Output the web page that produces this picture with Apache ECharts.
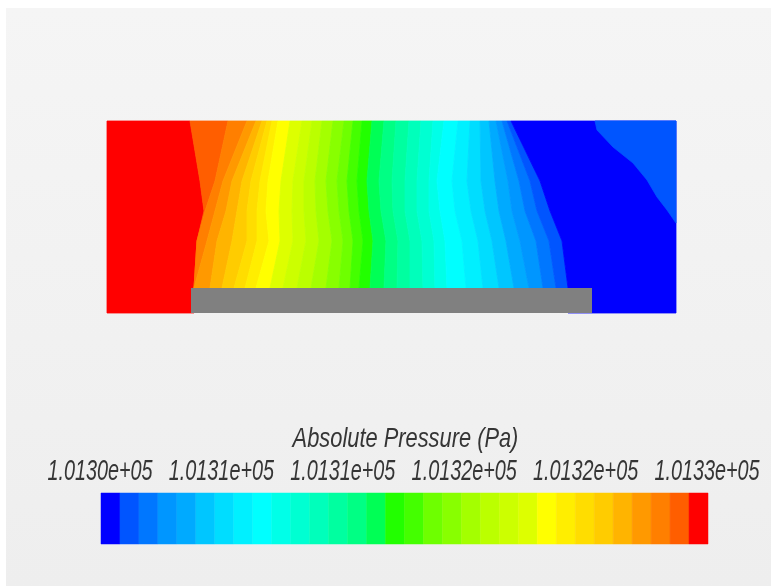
<!DOCTYPE html>
<html>
<head>
<meta charset="utf-8">
<script src="https://cdn.jsdelivr.net/npm/echarts@6/dist/echarts.min.js"></script>
<style>
  html, body { margin: 0; padding: 0; background: #ffffff; }
  #chart { width: 771px; height: 586px; }
</style>
</head>
<body>
<div id="chart"></div>
<script>
// Absolute pressure band edges (Pa): 32 equal bands
const levels = [
  101300, 101300.875, 101301.75, 101302.625, 101303.5, 101304.375, 101305.25, 101306.125,
  101307, 101307.875, 101308.75, 101309.625, 101310.5, 101311.375, 101312.25, 101313.125,
  101314, 101314.875, 101315.75, 101316.625, 101317.5, 101318.375, 101319.25, 101320.125,
  101321, 101321.875, 101322.75, 101323.625, 101324.5, 101325.375, 101326.25, 101327.125,
  101328
];

// Colour of each band, low pressure (blue) to high pressure (red)
const bandColors = [
  '#0000ff', '#0055ff', '#0077ff', '#0096ff', '#00aaff', '#00c6ff', '#00ddff', '#00f0ff',
  '#00ffff', '#00ffe8', '#00ffd2', '#00ffbb', '#00ffa0', '#00ff84', '#00ff55', '#22ff00',
  '#44ff00', '#6eff00', '#88ff00', '#a4ff00', '#bbff00', '#ccff00', '#ddff00', '#ffff00',
  '#ffee00', '#ffdd00', '#ffcc00', '#ffb400', '#ff9900', '#ff7f00', '#ff5e00', '#ff0000'
];

// Colour bar tick values and their labels
const tickValues = [101300, 101305.6, 101311.2, 101316.8, 101322.4, 101328];
const tickLabels = ['1.0130e+05', '1.0131e+05', '1.0131e+05', '1.0132e+05', '1.0132e+05', '1.0133e+05'];
const legendTitle = 'Absolute Pressure (Pa)';

// Channel section (mm) and the plate lying on its floor
const channelLength = 569;
const channelHeight = 192;
const plateX = [84, 485];
const plateTop = 25;

// Isobars: heights of the sample rows, and for each row the x position of
// boundary k (between band k+1 on the left and band k on the right), k = 0..30
const isobarY = [192, 132, 102, 72, 25];
const isobarX = [
  [404, 400, 395, 389, 382, 373, 363, 351, 337, 326, 314, 302, 289, 277, 265, 255, 246, 237, 226, 215, 205, 195, 183, 171, 165, 160, 155, 149, 140, 121, 83],
  [433, 423, 412, 401, 388, 374, 360, 345, 330, 322, 310, 298, 285, 272, 260, 250, 240, 230, 219, 208, 197, 186, 174, 161, 153, 144, 135, 125, 116, 108, 93],
  [443, 430, 418, 405, 392, 378, 364, 348, 333, 322, 310, 298, 286, 274, 262, 252, 242, 232, 221, 209, 197, 185, 172, 159, 150, 140, 130, 119, 108, 98, 97],
  [455, 442, 429, 413, 399, 385, 371, 355, 338, 327, 315, 303, 291, 279, 266, 256, 246, 236, 225, 212, 199, 186, 173, 162, 150, 140, 125, 110, 100, 90, 90],
  [461, 449, 436, 422, 407, 392, 376, 359, 340, 328, 316, 303, 290, 277, 263, 252, 243, 232, 219, 204, 190, 176, 163, 149, 138, 127, 115, 103, 87, 87, 87]
];

// Band-1 pocket in the upper right corner of the channel
const cornerPatch = [[488, 192], [490, 183], [506, 166], [526, 150], [540, 133], [550, 116], [560, 103], [569, 90], [569, 192]];
const cornerBand = 1;

const nBands = bandColors.length;
const lastRow = isobarY.length - 1;

function bandMid(k) { return (levels[k] + levels[k + 1]) / 2; }

// Outline of band k in channel coordinates
function bandPolygon(k) {
  const left = [], right = [];
  for (let r = 0; r < isobarY.length; r++) {
    const y = isobarY[r];
    left.push([k === nBands - 1 ? 0 : isobarX[r][k], y]);
    right.push([k === 0 ? channelLength : isobarX[r][k - 1], y]);
  }
  // the two outer bands reach the channel floor beside the plate
  if (k === nBands - 1) { left.push([0, 0]); right.push([isobarX[lastRow][k - 1], 0]); }
  if (k === 0) { left.push([isobarX[lastRow][0], 0]); right.push([channelLength, 0]); }
  return left.concat(right.reverse());
}

const fieldData = [];
for (let k = nBands - 1; k >= 0; k--) fieldData.push([k, 0, bandMid(k)]);
fieldData.push([cornerBand, 1, bandMid(cornerBand)]);

const barData = [];
for (let k = 0; k < nBands; k++) barData.push([levels[k], levels[k + 1], bandMid(k)]);

const pieces = [];
for (let k = 0; k < nBands; k++) pieces.push({ gte: levels[k], lt: levels[k + 1], color: bandColors[k] });

const chart = echarts.init(document.getElementById('chart'), null, { renderer: 'canvas' });

const hiddenAxis = { show: false, axisLine: { show: false }, axisTick: { show: false }, axisLabel: { show: false }, splitLine: { show: false } };

const background = {
  id: 'bg', type: 'rect', z: -10, silent: true,
  shape: { x: 6, y: 8, width: 765, height: 578 },
  style: {
    fill: { type: 'linear', x: 0, y: 0, x2: 0, y2: 1,
      colorStops: [{ offset: 0, color: '#f5f5f5' }, { offset: 1, color: '#eeeeee' }] }
  }
};

chart.setOption({
  animation: false,
  backgroundColor: '#ffffff',
  grid: [
    { left: 107, top: 121, width: channelLength, height: channelHeight },
    { left: 101, top: 493, width: 607, height: 51 }
  ],
  xAxis: [
    Object.assign({ type: 'value', gridIndex: 0, min: 0, max: channelLength }, hiddenAxis),
    Object.assign({ type: 'value', gridIndex: 1, min: levels[0], max: levels[nBands] }, hiddenAxis)
  ],
  yAxis: [
    Object.assign({ type: 'value', gridIndex: 0, min: 0, max: channelHeight }, hiddenAxis),
    Object.assign({ type: 'value', gridIndex: 1, min: 0, max: 1 }, hiddenAxis)
  ],
  visualMap: {
    type: 'piecewise', show: false, dimension: 2, seriesIndex: [0, 1], pieces: pieces
  },
  graphic: { elements: [background] },
  series: [
    {
      name: 'field', type: 'custom', xAxisIndex: 0, yAxisIndex: 0,
      dimensions: ['band', 'shape', 'pressure'],
      data: fieldData,
      renderItem: function (params, api) {
        const k = api.value(0);
        const pts = (api.value(1) === 1 ? cornerPatch : bandPolygon(k)).map(p => api.coord(p));
        const c = api.visual('color');
        return { type: 'polygon', shape: { points: pts }, style: { fill: c, stroke: c, lineWidth: 0.8 } };
      }
    },
    {
      name: 'colorbar', type: 'custom', xAxisIndex: 1, yAxisIndex: 1,
      dimensions: ['low', 'high', 'pressure'],
      data: barData,
      renderItem: function (params, api) {
        const p0 = api.coord([api.value(0), 1]);
        const p1 = api.coord([api.value(1), 0]);
        const c = api.visual('color');
        return { type: 'rect', shape: { x: p0[0], y: p0[1], width: p1[0] - p0[0], height: p1[1] - p0[1] },
          style: { fill: c, stroke: c, lineWidth: 0.5 } };
      }
    },
    {
      name: 'plate', type: 'custom', xAxisIndex: 0, yAxisIndex: 0,
      data: [[plateX[0], plateX[1], plateTop]],
      renderItem: function (params, api) {
        const p0 = api.coord([api.value(0), api.value(2)]);
        const p1 = api.coord([api.value(1), 0]);
        return { type: 'rect', shape: { x: p0[0], y: p0[1], width: p1[0] - p0[0], height: p1[1] - p0[1] },
          style: { fill: '#808080' } };
      }
    }
  ]
});

// Legend title and tick labels, placed on the colour bar's axis
const textStyleBase = { fontFamily: 'Liberation Sans, Arial, sans-serif', fontStyle: 'italic', fill: '#353535',
  align: 'center', verticalAlign: 'middle' };
const texts = [background];
const barLeft = chart.convertToPixel({ xAxisIndex: 1 }, levels[0]);
const barRight = chart.convertToPixel({ xAxisIndex: 1 }, levels[nBands]);
texts.push({
  id: 'title', type: 'text', x: (barLeft + barRight) / 2 + 1, y: 439, scaleX: 0.78,
  style: Object.assign({ text: legendTitle, fontSize: 28 }, textStyleBase)
});
tickValues.forEach(function (v, i) {
  texts.push({
    id: 'tick' + i, type: 'text', x: chart.convertToPixel({ xAxisIndex: 1 }, v) - 1, y: 472, scaleX: 0.66,
    style: Object.assign({ text: tickLabels[i], fontSize: 30 }, textStyleBase)
  });
});
chart.setOption({ graphic: { elements: texts } });
</script>
</body>
</html>
